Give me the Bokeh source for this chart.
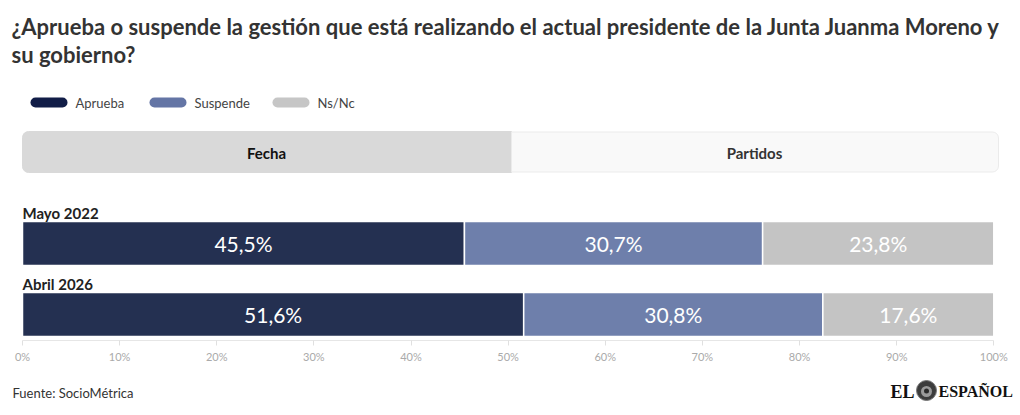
from bokeh.plotting import figure
from bokeh.models import Range1d, LinearAxis, FixedTicker, ColumnDataSource
from bokeh.core.properties import value
from bokeh.embed import file_html
from bokeh.resources import INLINE

# ---- data ----
title_lines = [
    "¿Aprueba o suspende la gestión que está realizando el actual presidente de la Junta Juanma Moreno y",
    "su gobierno?",
]
periods = ["Mayo 2022", "Abril 2026"]
series = ["Aprueba", "Suspende", "Ns/Nc"]
aprueba = [45.5, 51.6]
suspende = [30.7, 30.8]
nsnc = [23.8, 17.6]
tabs = ["Fecha", "Partidos"]
tick_values = [0, 10, 20, 30, 40, 50, 60, 70, 80, 90, 100]
tick_labels = [f"{t}%" for t in tick_values]
source_note = "Fuente: SocioMétrica"

# ---- styling ----
bar_colors = ["#243051", "#6e7fab", "#c4c4c4"]
legend_colors = ["#111d47", "#6475a5", "#c6c6c6"]
FONT = value("Lato")

W, H = 1020, 415
X0, PX_PER_PCT = 22, 9.713          # where 0% sits and pixels per percent point
ROW0, ROW_STEP = 243, 71            # centre of the first row and row spacing in pixels
BAR_H = 44 / ROW_STEP

p = figure(
    width=W, height=H, output_backend="svg", toolbar_location=None,
    x_range=Range1d(-X0 / PX_PER_PCT, (W - X0) / PX_PER_PCT),
    y_range=Range1d((H - ROW0) / ROW_STEP, -ROW0 / ROW_STEP),
    x_axis_location=None, y_axis_location=None,
    min_border=0, outline_line_color=None, background_fill_color="white",
)
p.grid.visible = False
p.extra_x_ranges = {"px": Range1d(0, W)}
p.extra_y_ranges = {"px": Range1d(H, 0)}
PX = dict(x_range_name="px", y_range_name="px")

# ---- title ----
p.text(x=[11, 11], y=[26, 54], text=title_lines, text_font=FONT, text_font_style="bold",
       text_font_size="22px", text_color="#333333", text_baseline="middle", **PX)

# ---- legend ----
leg_x = [30, 149, 272]
for lx, name, col in zip(leg_x, series, legend_colors):
    p.quad(left=[lx], right=[lx + 37], top=[97], bottom=[107], fill_color=col, line_color=None,
           border_radius=5, **PX)
    p.text(x=[lx + 45], y=[102], text=[name], text_font=FONT, text_font_size="13px",
           text_color="#444444", text_baseline="middle", **PX)

# ---- tabs ----
p.quad(left=[22], right=[511], top=[131], bottom=[172], fill_color="#d9d9d9",
       line_color="#d9d9d9", border_radius=(6, 0, 0, 6), **PX)
p.quad(left=[511], right=[998], top=[131.5], bottom=[171.5], fill_color="#f9f9f9",
       line_color="#ebebeb", line_width=1, border_radius=(0, 6, 6, 0), **PX)
p.text(x=[266, 754], y=[152, 152], text=tabs, text_font=FONT, text_font_style="bold",
       text_font_size="15px", text_color=["#111111", "#333333"], text_align="center",
       text_baseline="middle", **PX)

# ---- stacked bars ----
idx = list(range(len(periods)))
src = ColumnDataSource(dict(idx=idx, aprueba=aprueba, suspende=suspende, nsnc=nsnc))
p.hbar_stack(["aprueba", "suspende", "nsnc"], y="idx", height=BAR_H, color=bar_colors,
             line_color="white", line_width=1.5, source=src)

# value labels centred in each segment
lx, ly, lt = [], [], []
for i in idx:
    left = 0.0
    for v in (aprueba[i], suspende[i], nsnc[i]):
        lx.append(left + v / 2)
        ly.append(i)
        lt.append(f"{v:.1f}".replace(".", ",") + "%")
        left += v
p.text(x=lx, y=ly, text=lt, text_font=FONT, text_font_size="21px", text_color="white",
       text_align="center", text_baseline="middle", y_offset=0)

# period labels above each bar
p.text(x=[0] * len(periods), y=idx, text=periods, text_font=FONT, text_font_style="bold",
       text_font_size="15px", text_color="#222222", text_baseline="middle", y_offset=-31)

# ---- x axis ----
xaxis = LinearAxis(
    fixed_location=(339.5 - ROW0) / ROW_STEP, bounds=(0, 100),
    ticker=FixedTicker(ticks=tick_values),
    major_label_overrides={t: l for t, l in zip(tick_values, tick_labels)},
    axis_line_color="#e6e6e6", axis_line_width=1,
    major_tick_line_color="#e0e0e0", major_tick_in=0, major_tick_out=5,
    minor_tick_line_color=None,
    major_label_text_font="Lato", major_label_text_font_size="11px",
    major_label_text_color="#aaaaaa", major_label_standoff=5,
)
p.add_layout(xaxis, "below")

# ---- footer ----
p.text(x=[12], y=[392], text=[source_note], text_font=FONT, text_font_size="13px",
       text_color="#333333", text_baseline="middle", **PX)
p.text(x=[914], y=[391], text=["EL"], text_font=value("Liberation Serif"), text_font_style="bold",
       text_font_size="18px", text_color="#111111", text_align="right",
       text_baseline="middle", **PX)
p.circle(x=[926], y=[390], radius=10, fill_color="#3c3c3c", line_color="#777777", line_width=1, **PX)
p.circle(x=[926], y=[391], radius=5.5, fill_color="#9a9a9a", line_color=None, **PX)
p.circle(x=[926], y=[390.5], radius=2.5, fill_color="#2a2a2a", line_color=None, **PX)
p.text(x=[938], y=[391], text=["ESPAÑOL"], text_font=value("Liberation Serif"),
       text_font_style="bold", text_font_size="16px", text_color="#111111",
       text_baseline="middle", **PX)

open("out.html", "w").write(file_html(p, INLINE))
